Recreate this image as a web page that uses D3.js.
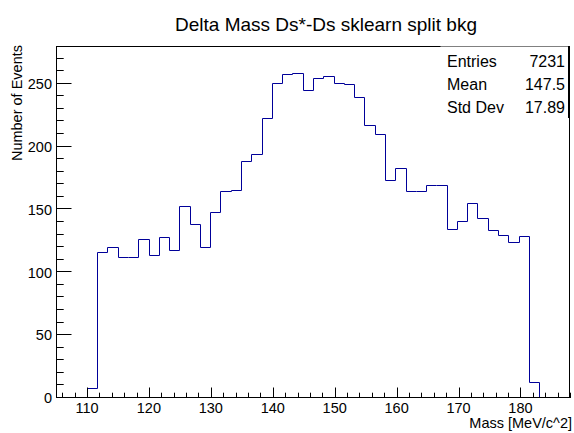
<!DOCTYPE html>
<html>
<head>
<meta charset="utf-8">
<script src="https://cdn.jsdelivr.net/npm/d3@7"></script>
<style>
  html, body { margin: 0; padding: 0; background: #fff; }
  svg { display: block; font-family: "Liberation Sans", Arial, Helvetica, sans-serif; }
</style>
</head>
<body>
<svg id="chart" width="574" height="433"></svg>
<script>
// Histogram binning: 50 bins from 105 to 188 MeV/c^2
const binLow = 105;
const binHigh = 188;
const nBins = 50;
const counts = [
  0, 0, 0, 7, 115, 119, 111, 111, 126, 113,
  127, 117, 152, 138, 119, 147, 164, 165, 188, 193,
  222, 250, 257, 258, 244, 254, 255, 250, 249, 239,
  216, 209, 173, 182, 164, 164, 169, 169, 134, 140,
  154, 142, 133, 129, 123, 128, 12, 0, 0, 0
];
const xTicks = [110, 120, 130, 140, 150, 160, 170, 180];
const yTicks = [0, 50, 100, 150, 200, 250];
const statLabels = ["Entries", "Mean", "Std Dev"];
const statValues = ["7231", "147.5", "17.89"];
const titleText = "Delta Mass Ds*-Ds sklearn split bkg";
const xTitle = "Mass [MeV/c^2]";
const yTitle = "Number of Events";

const W = 574, H = 433;
const frame = { left: 56, right: 570, top: 46, bottom: 398 };

const svg = d3.select("#chart");
svg.append("rect").attr("width", W).attr("height", H).attr("fill", "#fff");

const x = d3.scaleLinear().domain([binLow, binHigh]).range([frame.left, frame.right]);
const y = d3.scaleLinear().domain([0, 280]).range([frame.bottom, frame.top]);

const binWidth = (binHigh - binLow) / nBins;
const edges = d3.range(nBins + 1).map(i => binLow + i * binWidth);

// step outline of the histogram
const pts = [];
pts.push([x(edges[0]), y(0)]);
counts.forEach((c, i) => {
  pts.push([x(edges[i]), y(c)]);
  pts.push([x(edges[i + 1]), y(c)]);
});
pts.push([x(edges[nBins]), y(0)]);

svg.append("path")
  .attr("d", d3.line()(pts.map(p => [Math.round(p[0]) + 0.5, Math.round(p[1]) - 0.5])))
  .attr("fill", "none")
  .attr("stroke", "#000099")
  .attr("stroke-width", 1);

// frame border
svg.append("rect")
  .attr("x", frame.left + 0.5).attr("y", frame.top + 0.5)
  .attr("width", frame.right - frame.left - 1).attr("height", frame.bottom - frame.top - 1)
  .attr("fill", "none").attr("stroke", "#000").attr("stroke-width", 1);

// x axis ticks (major every 10, minor every 2)
const xMajLen = 10.5, xMinLen = 5.3;
const xMinor = d3.range(106, 189, 2).filter(v => v % 10 !== 0);
const gx = svg.append("g");
xTicks.forEach(v => {
  const px = Math.round(x(v)) + 0.5;
  gx.append("line").attr("x1", px).attr("x2", px)
    .attr("y1", frame.bottom).attr("y2", frame.bottom - xMajLen)
    .attr("stroke", "#000");
  gx.append("text").attr("x", x(v)).attr("y", 413)
    .attr("text-anchor", "middle").attr("font-size", 14.5).text(v);
});
xMinor.forEach(v => {
  const px = Math.round(x(v)) + 0.5;
  gx.append("line").attr("x1", px).attr("x2", px)
    .attr("y1", frame.bottom).attr("y2", frame.bottom - xMinLen)
    .attr("stroke", "#000");
});

// y axis ticks (major every 50, minor every 10)
const yMajLen = 15.5, yMinLen = 7.7;
const yMinor = d3.range(10, 280, 10).filter(v => v % 50 !== 0);
const gy = svg.append("g");
yTicks.forEach(v => {
  const py = Math.round(y(v)) - 0.5;
  gy.append("line").attr("x1", frame.left).attr("x2", frame.left + yMajLen)
    .attr("y1", py).attr("y2", py).attr("stroke", "#000");
  gy.append("text").attr("x", 52).attr("y", y(v)).attr("dy", "0.36em")
    .attr("text-anchor", "end").attr("font-size", 14.5).text(v);
});
yMinor.forEach(v => {
  const py = Math.round(y(v)) - 0.5;
  gy.append("line").attr("x1", frame.left).attr("x2", frame.left + yMinLen)
    .attr("y1", py).attr("y2", py).attr("stroke", "#000");
});

// axis titles
svg.append("text").attr("x", 572).attr("y", 428)
  .attr("text-anchor", "end").attr("font-size", 14.5).text(xTitle);
svg.append("text")
  .attr("transform", `translate(22, ${frame.top - 1}) rotate(-90)`)
  .attr("text-anchor", "end").attr("font-size", 14.5).text(yTitle);

// title
svg.append("text").attr("x", 326).attr("y", 31)
  .attr("text-anchor", "middle").attr("font-size", 19).text(titleText);

// statistics box
const box = { x0: 440, x1: 568, y0: 46, y1: 118 };
svg.append("rect").attr("x", box.x0 + 0.5).attr("y", box.y0 + 0.5)
  .attr("width", box.x1 - box.x0).attr("height", box.y1 - box.y0)
  .attr("fill", "#fff").attr("stroke", "none");
svg.append("line").attr("x1", box.x1 + 0.5).attr("x2", box.x1 + 0.5)
  .attr("y1", box.y0).attr("y2", box.y1).attr("stroke", "#000");
const rowY = [67, 90, 113];
statLabels.forEach((t, i) => {
  svg.append("text").attr("x", 447).attr("y", rowY[i])
    .attr("font-size", 16).text(t);
  svg.append("text").attr("x", 565).attr("y", rowY[i])
    .attr("text-anchor", "end").attr("font-size", 16).text(statValues[i]);
});
</script>
</body>
</html>
